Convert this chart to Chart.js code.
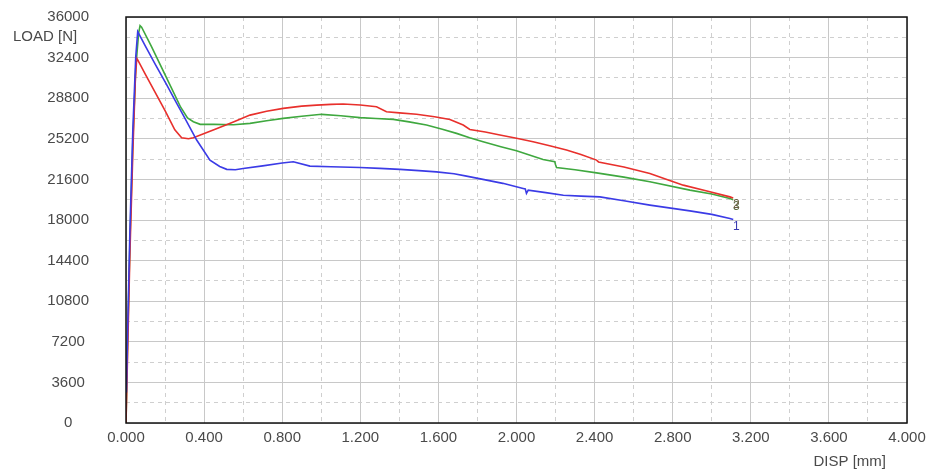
<!DOCTYPE html>
<html>
<head>
<meta charset="utf-8">
<script src="https://cdn.jsdelivr.net/npm/chart.js@4.4.1/dist/chart.umd.min.js"></script>
<style>
html,body{margin:0;padding:0;background:#fff;}
#wrap{width:929px;height:472px;position:relative;}
</style>
</head>
<body>
<div id="wrap"><canvas id="c" width="929" height="472"></canvas></div>
<script>
// ---- data ----
const xTickValues = [0,0.4,0.8,1.2,1.6,2.0,2.4,2.8,3.2,3.6,4.0];
const yTickValues = [0,3600,7200,10800,14400,18000,21600,25200,28800,32400,36000];
const curveNames = ['1','2','3'];

const blueX = [0.002,0.008,0.02,0.035,0.05,0.06,0.1,0.15,0.208,0.25,0.293,0.362,0.43,0.48,0.516,0.56,0.6,0.7,0.8,0.857,0.942,1.05,1.198,1.3,1.403,1.5,1.59,1.68,1.744,1.828,1.93,2.034,2.045,2.051,2.06,2.15,2.24,2.33,2.427,2.55,2.683,2.888,3.0,3.093,3.11];
const blueY = [2700,8000,17000,26000,32500,34700,33400,31800,30000,28660,27290,25090,23310,22750,22490,22450,22570,22800,23050,23160,22780,22720,22660,22580,22490,22380,22270,22100,21890,21600,21250,20800,20750,20360,20650,20430,20200,20120,20050,19700,19320,18810,18500,18140,18050];

const redX = [0,0.008,0.02,0.035,0.048,0.055,0.06,0.1,0.15,0.2,0.25,0.285,0.32,0.345,0.45,0.55,0.635,0.72,0.805,0.9,0.976,1.05,1.112,1.2,1.283,1.334,1.4,1.488,1.58,1.659,1.727,1.761,1.84,1.915,2.0,2.085,2.17,2.256,2.33,2.41,2.42,2.55,2.683,2.77,2.854,2.97,3.093,3.11];
const redY = [0,6000,15000,24000,30500,32340,32200,30900,29300,27700,26000,25300,25200,25290,26000,26700,27300,27650,27900,28100,28190,28250,28280,28200,28040,27600,27500,27370,27150,26920,26420,26030,25800,25530,25250,24940,24580,24200,23800,23310,23150,22700,22130,21600,21090,20600,20050,19950];

const greenX = [0,0.008,0.02,0.035,0.05,0.065,0.072,0.08,0.13,0.18,0.23,0.28,0.315,0.345,0.38,0.45,0.55,0.635,0.72,0.805,0.9,1.002,1.1,1.198,1.28,1.369,1.45,1.539,1.62,1.693,1.76,1.829,1.92,2.0,2.07,2.136,2.196,2.2,2.205,2.3,2.41,2.55,2.683,2.888,3.0,3.093,3.11];
const greenY = [0,7000,16000,25000,31500,34600,35230,35100,33400,31600,29800,28000,27050,26710,26480,26480,26450,26570,26800,27010,27200,27370,27250,27080,27000,26920,26700,26420,26050,25680,25300,24940,24500,24140,23750,23370,23160,22900,22660,22450,22180,21800,21390,20650,20300,19910,19800];

const toPts = (xs, ys) => xs.map((x, i) => ({x: x, y: ys[i]}));

const FONT = {family: 'Liberation Sans, Arial, sans-serif', size: 15};
const LABEL_COLOR = '#4a4a4a';

const frameAndText = {
  id: 'frameAndText',
  afterDatasetsDraw(chart) {
    const {ctx, chartArea: a} = chart;
    ctx.save();
    ctx.strokeStyle = '#111';
    ctx.lineWidth = 1.5;
    ctx.strokeRect(a.left, a.top, a.right - a.left, a.bottom - a.top);
    ctx.fillStyle = LABEL_COLOR;
    ctx.font = '15px Liberation Sans, Arial, sans-serif';
    ctx.textBaseline = 'middle';
    ctx.textAlign = 'left';
    ctx.fillText('LOAD [N]', 13, 37);
    ctx.textAlign = 'right';
    ctx.fillText('DISP [mm]', 886, 462);
    ctx.font = '12px Liberation Sans, Arial, sans-serif';
    ctx.textAlign = 'center';
    [2, 1, 0].forEach(i => {
      const meta = chart.getDatasetMeta(i);
      const last = meta.data[meta.data.length - 1];
      ctx.fillStyle = i === 0 ? '#3a3ab0' : (i === 1 ? '#6a5a40' : '#5a6a40');
      ctx.fillText(curveNames[i], last.x + 3, last.y + 7);
    });
    ctx.restore();
  }
};

const dashedGrid = (step) => (c) => {
  const v = c.tick ? c.tick.value : 0;
  const r = Math.round(v / step);
  return (r % 2 === 0) ? 'rgba(0,0,0,0)' : '#cfcfcf';
};
const noPad = (s) => { s.paddingTop = 0; s.paddingBottom = 0; s.paddingLeft = 0; s.paddingRight = 0; };

new Chart(document.getElementById('c'), {
  type: 'scatter',
  data: {
    datasets: [
      {label: '1', data: toPts(blueX, blueY), borderColor: '#3b3be6', showLine: true, pointRadius: 0, borderWidth: 1.6, tension: 0},
      {label: '2', data: toPts(redX, redY), borderColor: '#e8302c', showLine: true, pointRadius: 0, borderWidth: 1.6, tension: 0},
      {label: '3', data: toPts(greenX, greenY), borderColor: '#3fa83f', showLine: true, pointRadius: 0, borderWidth: 1.6, tension: 0}
    ]
  },
  options: {
    responsive: false,
    animation: false,
    layout: {padding: {left: 0, top: 17, right: 22, bottom: 0}},
    plugins: {legend: {display: false}, tooltip: {enabled: false}, title: {display: false}},
    scales: {
      x: {
        type: 'linear', position: 'bottom', min: 0, max: 4,
        afterBuildTicks: (s) => { s.ticks = xTickValues.map(v => ({value: v})); },
        afterFit: (s) => { s.height = 49; noPad(s); },
        ticks: {color: LABEL_COLOR, font: FONT, padding: 6, maxRotation: 0, autoSkip: false,
          callback: (v) => Number(v).toFixed(3)},
        grid: {color: '#c8c8c8', drawTicks: false, lineWidth: 1},
        border: {display: false}
      },
      x2: {
        type: 'linear', position: 'bottom', min: 0, max: 4,
        afterBuildTicks: (s) => { const t = []; for (let i = 0; i <= 20; i++) t.push({value: i * 0.2}); s.ticks = t; },
        afterFit: (s) => { s.height = 0; noPad(s); },
        ticks: {display: false},
        grid: {color: dashedGrid(0.2), drawTicks: false, lineWidth: 1},
        border: {display: false, dash: [4, 4]}
      },
      y: {
        type: 'linear', position: 'left', min: 0, max: 36000,
        afterBuildTicks: (s) => { s.ticks = yTickValues.map(v => ({value: v})); },
        afterFit: (s) => { s.width = 126; noPad(s); },
        ticks: {color: LABEL_COLOR, font: FONT, padding: 37, crossAlign: 'center', autoSkip: false,
          callback: (v) => String(v)},
        grid: {color: '#c8c8c8', drawTicks: false, lineWidth: 1},
        border: {display: false}
      },
      y2: {
        type: 'linear', position: 'left', min: 0, max: 36000,
        afterBuildTicks: (s) => { const t = []; for (let i = 0; i <= 20; i++) t.push({value: i * 1800}); s.ticks = t; },
        afterFit: (s) => { s.width = 0; noPad(s); },
        ticks: {display: false},
        grid: {color: dashedGrid(1800), drawTicks: false, lineWidth: 1},
        border: {display: false, dash: [4, 4]}
      }
    }
  },
  plugins: [frameAndText]
});
</script>
</body>
</html>
